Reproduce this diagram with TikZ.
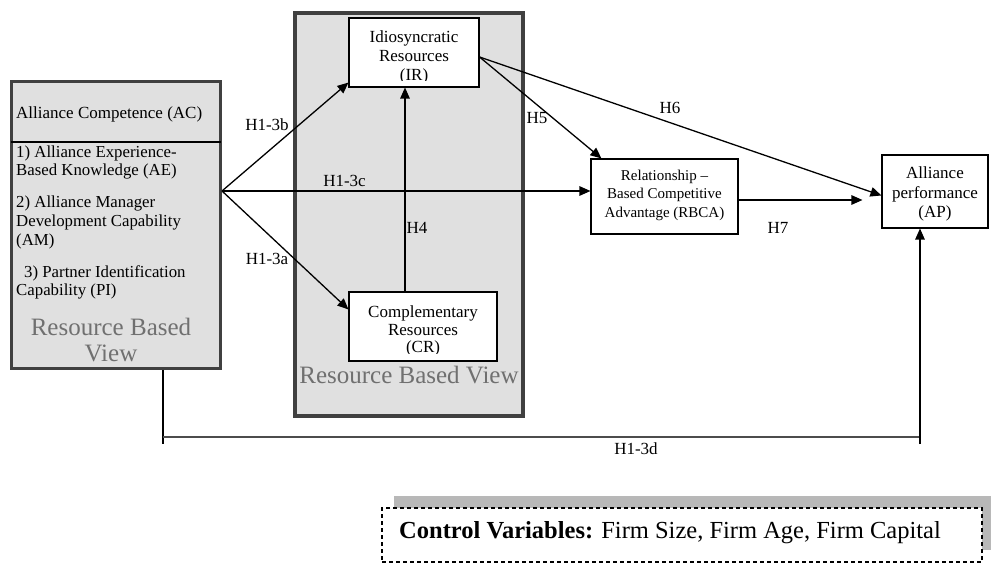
\documentclass[tikz,border=0pt]{standalone}
\usepackage{fontspec}
\setmainfont{Liberation Serif}
\usetikzlibrary{arrows.meta,calc}
\definecolor{boxgray}{HTML}{E0E0E0}
\definecolor{edgegray}{HTML}{404040}
\definecolor{rbvgray}{HTML}{707070}
\definecolor{shadowgray}{HTML}{B8B8B8}
\begin{document}
\begin{tikzpicture}[x=1pt,y=-1pt,
  panel/.style={draw=edgegray, line width=3.5pt, fill=boxgray, inner sep=0pt},
  wbox/.style={draw=black, line width=1.1pt, fill=white, inner sep=0pt},
  txt/.style={inner sep=0pt, align=center},
  item/.style={inner sep=0pt, align=left, anchor=west},
  lab/.style={inner sep=0pt, font=\fontsize{17}{19}\selectfont},
  arr/.style={-{Triangle[length=11pt,width=9.5pt]}, line width=1.3pt},
  rbv/.style={inner sep=0pt, text=rbvgray, align=center, font=\fontsize{25}{26}\selectfont}]
\useasboundingbox (0,0) rectangle (991,564);

% panels
\node[panel, minimum width=228pt, minimum height=403pt] (MID) at (409,214.5) {};
\node[panel, minimum width=209pt, minimum height=287pt] (LB) at (116,225) {};
\coordinate (divy) at (0,142);
\draw[line width=1.6pt] ([xshift=1.5pt]LB.west |- divy) -- ([xshift=-1.5pt]LB.east |- divy);

% left panel texts
\node[inner sep=0pt, anchor=west, font=\fontsize{17}{18}\selectfont] (AC) at (16,114.5) {Alliance Competence (AC)};
\node[item, font=\fontsize{16.8}{18.3}\selectfont] (AE) at (16,162.5) {1) Alliance Experience-\\Based Knowledge (AE)};
\node[item, font=\fontsize{16.8}{19}\selectfont] (AM) at (16,222.5) {2) Alliance Manager\\Development Capability\\(AM)};
\node[item, font=\fontsize{16.8}{18.3}\selectfont] (PI) at (16,282.5) {\hspace*{8pt}3) Partner Identification\\Capability (PI)};
\node[rbv] (RBV1) at (111,340) {Resource Based\\View};

% middle panel boxes
\node[wbox, minimum width=130pt, minimum height=69pt] (IR) at (414,52.5) {};
\begin{scope}
  \clip (349,18) rectangle (479,81);
  \node[txt, font=\fontsize{17}{18.8}\selectfont] (IRt) at (414,57.5) {Idiosyncratic\\Resources\\(IR)};
\end{scope}
\node[wbox, minimum width=148pt, minimum height=69pt] (CR) at (423,326.5) {};
\begin{scope}
  \clip (349,292) rectangle (497,353.5);
  \node[txt, font=\fontsize{17}{17.8}\selectfont] (CRt) at (423,331) {Complementary\\Resources\\(CR)};
\end{scope}
\node[rbv] (RBV2) at (409,375) {Resource Based View};

% right boxes
\node[wbox, minimum width=147pt, minimum height=75pt] (RBCA) at (664.5,196.5) {};
\node[txt, font=\fontsize{15}{18.5}\selectfont] (RBCAt) at (664.5,195) {Relationship --\\Based Competitive\\Advantage (RBCA)};
\node[wbox, minimum width=106pt, minimum height=73pt] (AP) at (935,191.5) {};
\node[txt, font=\fontsize{17}{19.5}\selectfont] (APt) at (935,194) {Alliance\\performance\\(AP)};

% connectors
\coordinate (src) at (222,191);
\draw[arr] (src) -- ([yshift=5pt]IR.south west);
\draw[arr] (src) -- ([yshift=-18pt]CR.north west);
\draw[arr] (src) -- (src -| RBCA.west);
\draw[arr] ([xshift=-18pt]CR.north) -- ([xshift=-18pt]CR.north |- IR.south);
\coordinate (irs) at ([yshift=-4.5pt]IR.east);
\draw[arr] (irs) -- ([xshift=11pt]RBCA.north west);
\draw[arr] (irs) -- ([yshift=-4pt]AP.west);
\coordinate (h7s) at ([yshift=-3.5pt]RBCA.east);
\draw[arr, shorten >=19pt] (h7s) -- (h7s -| AP.west);

% H1-3d path
\coordinate (d0) at ([xshift=47pt]LB.south);
\coordinate (dlow) at (0,444);
\coordinate (dline) at (0,437);
\coordinate (d2) at (920,437);
\draw[line width=1.1pt] (d0) -- (d0 |- dlow);
\draw[line width=2.2pt, draw=black!70] (d0 |- dline) -- (d2);
\draw[arr, line width=1.1pt] (d2 |- dlow) -- (d2 |- AP.south);

% labels
\node[lab] (L3b) at (267,125) {H1-3b};
\node[lab] (L3a) at (267,259) {H1-3a};
\node[lab] (L3c) at (344.5,181) {H1-3c};
\node[lab] (L4) at (417,228) {H4};
\node[lab] (L5) at (537,118) {H5};
\node[lab] (L6) at (670,108) {H6};
\node[lab] (L7) at (778,228) {H7};
\node[lab] (L3d) at (636,449) {H1-3d};

% control variables
\fill[shadowgray] (394,496) rectangle (991,550);
\node[draw=black, line width=1.1pt, dash pattern=on 4pt off 3pt, fill=white, inner sep=0pt,
      minimum width=600pt, minimum height=54pt] (CV) at (682,535) {};
\node[inner sep=0pt, anchor=west, font=\fontsize{24.5}{26}\selectfont] (CVt) at (399,532.4)
  {\textbf{Control Variables:} Firm Size, Firm Age, Firm Capital};
\end{tikzpicture}
\end{document}
